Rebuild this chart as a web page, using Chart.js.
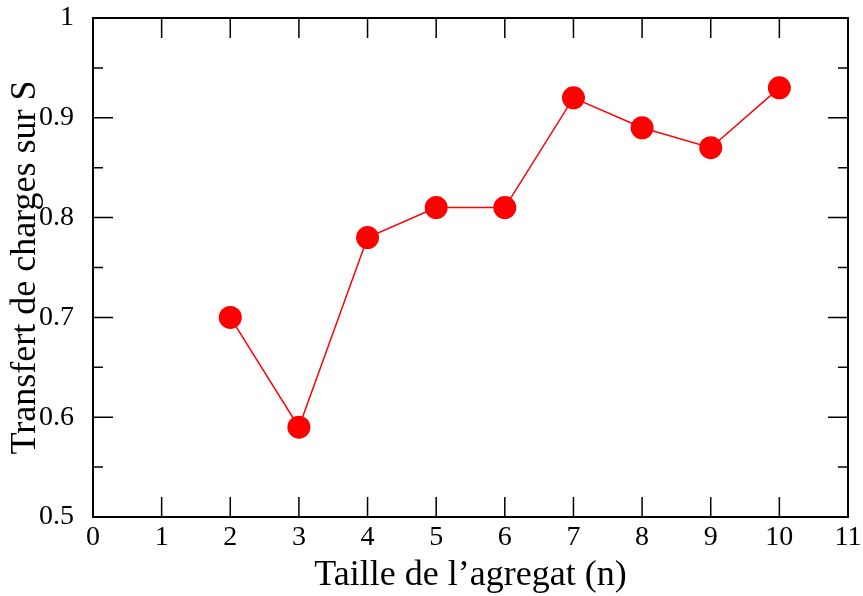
<!DOCTYPE html>
<html>
<head>
<meta charset="utf-8">
<script src="https://cdn.jsdelivr.net/npm/chart.js@4/dist/chart.umd.min.js"></script>
<style>
    body { margin: 0; background: #ffffff; }
    #wrap { width: 863px; height: 596px; }
</style>
</head>
<body>
<div id="wrap"><canvas id="chart" width="863" height="596"></canvas></div>
<script>
// Data
const cluster_sizes = [2, 3, 4, 5, 6, 7, 8, 9, 10];
const charge_transfer = [0.70, 0.59, 0.78, 0.81, 0.81, 0.92, 0.89, 0.87, 0.93];
const x_ticks = [0, 1, 2, 3, 4, 5, 6, 7, 8, 9, 10, 11];
const y_ticks = ["0.5", "0.6", "0.7", "0.8", "0.9", "1"];

const serif = "'Liberation Serif', 'DejaVu Serif', serif";

// Draw the frame and inward ticks on all four sides (xmgrace style)
const frame_ticks = {
    id: "frame_ticks",
    afterDraw(chart) {
        const ctx = chart.ctx;
        const area = chart.chartArea;
        const xs = chart.scales.x;
        const ys = chart.scales.y;
        ctx.save();
        ctx.strokeStyle = "#000000";
        ctx.lineWidth = 1.5;
        ctx.beginPath();
        x_ticks.forEach((v) => {
            const px = xs.getPixelForValue(v);
            ctx.moveTo(px, area.bottom);
            ctx.lineTo(px, area.bottom - 20);
            ctx.moveTo(px, area.top);
            ctx.lineTo(px, area.top + 20);
        });
        for (let i = 0; i < y_ticks.length; i++) {
            const v = 0.5 + i * 0.1;
            const py = ys.getPixelForValue(v);
            ctx.moveTo(area.left, py);
            ctx.lineTo(area.left + 20, py);
            ctx.moveTo(area.right, py);
            ctx.lineTo(area.right - 20, py);
            if (i < y_ticks.length - 1) {
                const pm = ys.getPixelForValue(v + 0.05);
                ctx.moveTo(area.left, pm);
                ctx.lineTo(area.left + 10, pm);
                ctx.moveTo(area.right, pm);
                ctx.lineTo(area.right - 10, pm);
            }
        }
        ctx.stroke();
        ctx.lineWidth = 2;
        ctx.strokeRect(area.left, area.top, area.right - area.left, area.bottom - area.top);
        ctx.restore();
    }
};

const data = {
    datasets: [{
        data: cluster_sizes.map((n, i) => ({ x: n, y: charge_transfer[i] })),
        borderColor: "#ff0000",
        backgroundColor: "#ff0000",
        borderWidth: 1.5,
        pointRadius: 11.5,
        pointBorderWidth: 0,
        tension: 0,
        fill: false
    }]
};

const config = {
    type: "line",
    data: data,
    options: {
        responsive: false,
        animation: false,
        layout: {
            autoPadding: false,
            padding: { top: 18, right: 15, bottom: 0, left: 0 }
        },
        scales: {
            x: {
                type: "linear",
                min: 0,
                max: 11,
                border: { display: false },
                grid: { display: false },
                afterFit: (scale) => {
                    scale.height = 79;
                    scale.paddingLeft = 0;
                    scale.paddingRight = 0;
                },
                ticks: {
                    stepSize: 1,
                    padding: -4,
                    maxRotation: 0,
                    color: "#000000",
                    font: { family: serif, size: 28 }
                },
                title: {
                    display: true,
                    text: "Taille de l\u2019agregat (n)",
                    color: "#000000",
                    padding: { top: 0, bottom: -1 },
                    font: { family: serif, size: 36 }
                }
            },
            y: {
                min: 0.5,
                max: 1,
                border: { display: false },
                grid: { display: false },
                afterFit: (scale) => {
                    scale.width = 93;
                    scale.paddingTop = 0;
                    scale.paddingBottom = 0;
                },
                ticks: {
                    stepSize: 0.1,
                    padding: 11,
                    color: "#000000",
                    font: { family: serif, size: 28 },
                    callback: (value) => y_ticks[Math.round((value - 0.5) * 10)]
                },
                title: {
                    display: true,
                    text: "Transfert de charges sur S",
                    color: "#000000",
                    padding: { top: 4, bottom: 0 },
                    font: { family: serif, size: 36 }
                }
            }
        },
        plugins: {
            legend: { display: false },
            tooltip: { enabled: false }
        }
    },
    plugins: [frame_ticks]
};

new Chart(document.getElementById("chart").getContext("2d"), config);
</script>
</body>
</html>
